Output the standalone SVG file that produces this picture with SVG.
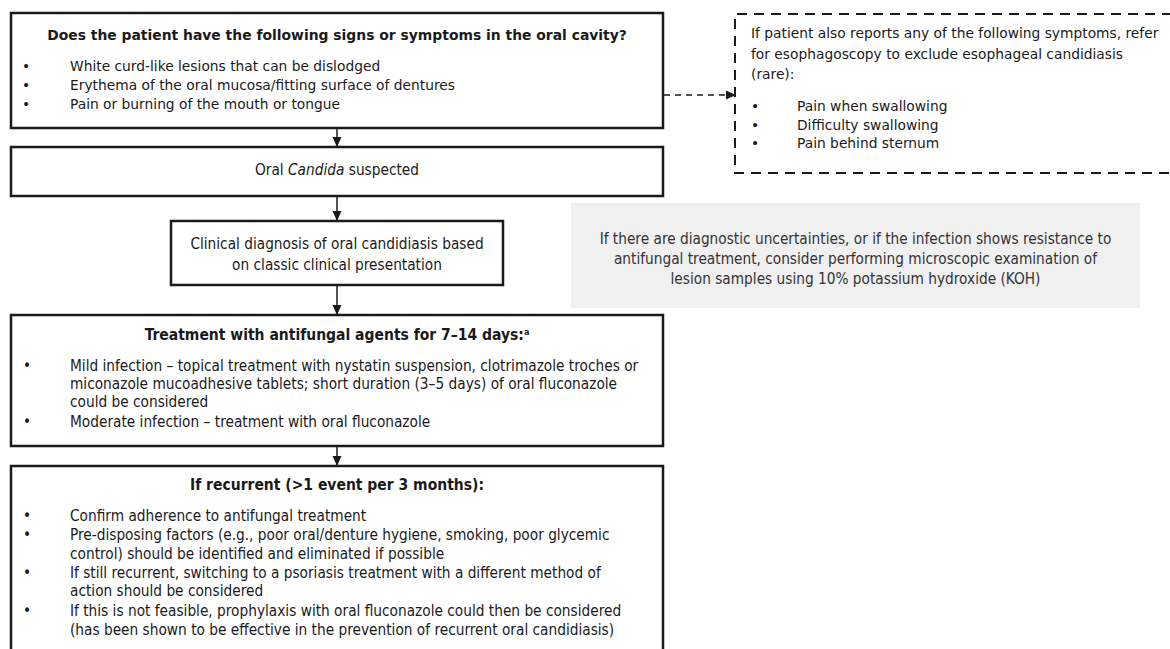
<svg xmlns="http://www.w3.org/2000/svg" width="1170" height="649" viewBox="0 0 1170 649">
<style>
.box{fill:#fff;stroke:#1a1a1a;stroke-width:2.5}
.note{fill:#f0f0f0;stroke:none}
.dash{fill:none;stroke:#1a1a1a;stroke-width:2;stroke-dasharray:10 7}
.t{font-family:"DejaVu Sans",Verdana,sans-serif;font-size:13.8px;fill:#1a1a1a}
.tb{font-weight:bold;font-size:13.9px}
.c{font-family:"DejaVu Sans Condensed","DejaVu Sans",sans-serif;font-size:15.25px;fill:#1a1a1a}
.cb{font-weight:bold;font-size:15.5px}
.m{text-anchor:middle}
.g{fill:#333}
.conn{stroke:#1a1a1a;stroke-width:1.5;fill:none}
.conn-d{stroke:#1a1a1a;stroke-width:1.5;fill:none;stroke-dasharray:6 5}
</style>
<defs>
<marker id="ah" markerUnits="userSpaceOnUse" markerWidth="10" markerHeight="10" viewBox="0 0 10 10" refX="10" refY="5" orient="auto">
<path d="M0,0.5 L10,5 L0,9.5 Z" fill="#1a1a1a"/>
</marker>
</defs>
<rect width="1170" height="649" fill="#fff"/>

<g id="connectors">
<line class="conn" x1="337" y1="128" x2="337" y2="147" marker-end="url(#ah)"/>
<line class="conn" x1="337" y1="196" x2="337" y2="221" marker-end="url(#ah)"/>
<line class="conn" x1="337" y1="285" x2="337" y2="315" marker-end="url(#ah)"/>
<line class="conn" x1="337" y1="446" x2="337" y2="466" marker-end="url(#ah)"/>
<line class="conn-d" x1="664" y1="95" x2="736" y2="95" marker-end="url(#ah)"/>
</g>

<g id="node-symptoms">
<rect class="box" x="11" y="13" width="652" height="115"/>
<text class="t tb m" x="337" y="40">Does the patient have the following signs or symptoms in the oral cavity?</text>
<text class="t" x="22" y="70.5">•</text><text class="t" x="70" y="70.5">White curd-like lesions that can be dislodged</text>
<text class="t" x="22" y="89.5">•</text><text class="t" x="70" y="89.5">Erythema of the oral mucosa/fitting surface of dentures</text>
<text class="t" x="22" y="108.5">•</text><text class="t" x="70" y="108.5">Pain or burning of the mouth or tongue</text>
</g>

<g id="node-esophageal">
<path class="dash" d="M1172,14 H735 V173 H1172"/>
<text class="t" x="751" y="38">If patient also reports any of the following symptoms, refer</text>
<text class="t" x="751" y="58.5">for esophagoscopy to exclude esophageal candidiasis</text>
<text class="t" x="751" y="79">(rare):</text>
<text class="t" x="751" y="111">•</text><text class="t" x="797" y="111">Pain when swallowing</text>
<text class="t" x="751" y="129.5">•</text><text class="t" x="797" y="129.5">Difficulty swallowing</text>
<text class="t" x="751" y="148">•</text><text class="t" x="797" y="148">Pain behind sternum</text>
</g>

<g id="node-suspected">
<rect class="box" x="11" y="147" width="652" height="49"/>
<text class="c m" x="337" y="175">Oral <tspan font-style="italic">Candida</tspan> suspected</text>
</g>

<g id="node-diagnosis">
<rect class="box" x="171" y="221" width="332" height="64"/>
<text class="c m" x="337" y="248.5">Clinical diagnosis of oral candidiasis based</text>
<text class="c m" x="337" y="269.5">on classic clinical presentation</text>
</g>

<g id="node-koh">
<rect class="note" x="571" y="203" width="569" height="105"/>
<text class="c m g" x="855.5" y="244">If there are diagnostic uncertainties, or if the infection shows resistance to</text>
<text class="c m g" x="855.5" y="264">antifungal treatment, consider performing microscopic examination of</text>
<text class="c m g" x="855.5" y="284">lesion samples using 10% potassium hydroxide (KOH)</text>
</g>

<g id="node-treatment">
<rect class="box" x="11" y="315" width="652" height="131"/>
<text class="c cb m" x="337" y="340">Treatment with antifungal agents for 7–14 days:<tspan font-size="9" dy="-5">a</tspan></text>
<text class="c" x="23" y="371">•</text><text class="c" x="70" y="371">Mild infection – topical treatment with nystatin suspension, clotrimazole troches or</text>
<text class="c" x="70" y="389">miconazole mucoadhesive tablets; short duration (3–5 days) of oral fluconazole</text>
<text class="c" x="70" y="407">could be considered</text>
<text class="c" x="23" y="427">•</text><text class="c" x="70" y="427">Moderate infection – treatment with oral fluconazole</text>
</g>

<g id="node-recurrent">
<rect class="box" x="11" y="466" width="652" height="200"/>
<text class="c cb m" x="337" y="490">If recurrent (&gt;1 event per 3 months):</text>
<text class="c" x="23" y="521">•</text><text class="c" x="70" y="521">Confirm adherence to antifungal treatment</text>
<text class="c" x="23" y="540">•</text><text class="c" x="70" y="540">Pre-disposing factors (e.g., poor oral/denture hygiene, smoking, poor glycemic</text>
<text class="c" x="70" y="558.5">control) should be identified and eliminated if possible</text>
<text class="c" x="23" y="577.5">•</text><text class="c" x="70" y="577.5">If still recurrent, switching to a psoriasis treatment with a different method of</text>
<text class="c" x="70" y="596">action should be considered</text>
<text class="c" x="23" y="615.5">•</text><text class="c" x="70" y="615.5">If this is not feasible, prophylaxis with oral fluconazole could then be considered</text>
<text class="c" x="70" y="634.5">(has been shown to be effective in the prevention of recurrent oral candidiasis)</text>
</g>
</svg>
